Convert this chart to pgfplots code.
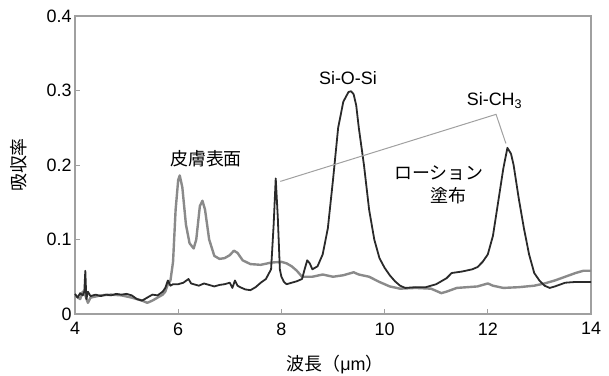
\documentclass[border=0pt]{standalone}
\usepackage{pgfplots}
\pgfplotsset{compat=1.18}
\usepackage{fontspec}
\setmainfont{Liberation Sans}
\newfontfamily\jp{Noto Sans CJK JP}
\definecolor{skin}{HTML}{8A8A8A}
\definecolor{lotion}{HTML}{2A2A2A}
\definecolor{frame}{HTML}{A0A0A0}
\begin{document}
\begin{tikzpicture}[font=\fontsize{18}{21}\selectfont]
\begin{axis}[
  scale only axis, width=516bp, height=298bp,
  xmin=4, xmax=14, ymin=0, ymax=0.4,
  xtick={4,6,8,10,12,14}, xticklabels={4,6,8,10,12,14},
  ytick={0,0.1,0.2,0.3,0.4}, yticklabels={0,0.1,0.2,0.3,0.4},
  /pgf/number format/assume math mode=true,
  tick pos=left, tick align=inside, major tick length=5bp,
  tick style={frame, line width=0.8bp},
  axis line style={frame, line width=1.5bp},
  xticklabel style={yshift=-5bp},
  xlabel={{\jp 波長（}μm{\jp ）}},
  ylabel={{\jp 吸収率}},
  xlabel style={at={(axis description cs:0.504,-0.168)}, anchor=center},
  ylabel style={at={(axis description cs:-0.110,0.5)}, anchor=center},
  clip=false,
]
\addplot[skin, line width=2.4bp, line join=round] coordinates {
(4.0,0.025)(4.1,0.02)(4.15,0.03)(4.2,0.025)(4.25,0.015)(4.3,0.022)(4.5,0.025)
(4.7,0.026)(4.9,0.025)(5.1,0.022)(5.2,0.02)(5.3,0.018)(5.4,0.015)(5.5,0.018)
(5.6,0.022)(5.7,0.026)(5.75,0.03)(5.8,0.04)(5.85,0.045)(5.9,0.07)(5.95,0.14)
(6.0,0.18)(6.03,0.186)(6.08,0.17)(6.15,0.12)(6.22,0.095)(6.3,0.088)(6.35,0.1)
(6.42,0.145)(6.47,0.152)(6.52,0.14)(6.6,0.1)(6.7,0.078)(6.8,0.074)(6.9,0.075)
(7.0,0.079)(7.08,0.085)(7.15,0.082)(7.25,0.072)(7.4,0.067)(7.6,0.066)(7.8,0.069)
(8.0,0.07)(8.1,0.068)(8.2,0.064)(8.3,0.058)(8.4,0.05)(8.6,0.05)(8.8,0.053)
(9.0,0.05)(9.2,0.052)(9.4,0.056)(9.5,0.053)(9.7,0.05)(9.9,0.043)(10.1,0.037)
(10.3,0.034)(10.6,0.035)(10.9,0.034)(11.1,0.028)(11.2,0.03)(11.4,0.035)
(11.6,0.036)(11.8,0.037)(12.0,0.041)(12.1,0.038)(12.3,0.035)(12.6,0.036)
(12.9,0.038)(13.1,0.041)(13.3,0.045)(13.5,0.05)(13.7,0.055)(13.85,0.058)(14.0,0.058)
};
\addplot[lotion, line width=1.8bp, line join=round] coordinates {
(4.0,0.027)(4.05,0.022)(4.1,0.028)(4.15,0.025)(4.18,0.03)(4.2,0.058)(4.22,0.02)
(4.25,0.03)(4.3,0.024)(4.4,0.026)(4.5,0.024)(4.6,0.026)(4.7,0.025)(4.8,0.027)
(4.9,0.026)(5.0,0.027)(5.1,0.025)(5.2,0.02)(5.3,0.018)(5.4,0.022)(5.5,0.026)
(5.6,0.025)(5.7,0.03)(5.75,0.035)(5.8,0.045)(5.85,0.038)(5.9,0.04)(6.0,0.04)
(6.1,0.042)(6.2,0.047)(6.25,0.041)(6.3,0.04)(6.4,0.038)(6.5,0.041)(6.6,0.039)
(6.7,0.037)(6.8,0.039)(6.9,0.04)(7.0,0.042)(7.05,0.035)(7.1,0.045)(7.15,0.038)
(7.2,0.036)(7.3,0.033)(7.4,0.032)(7.5,0.036)(7.6,0.042)(7.7,0.047)(7.8,0.06)
(7.85,0.12)(7.89,0.182)(7.93,0.13)(7.97,0.06)(8.0,0.05)(8.05,0.043)(8.1,0.04)
(8.2,0.042)(8.3,0.044)(8.4,0.047)(8.45,0.06)(8.5,0.072)(8.55,0.068)(8.6,0.06)
(8.7,0.064)(8.8,0.08)(8.9,0.115)(9.0,0.18)(9.1,0.25)(9.2,0.285)(9.3,0.298)
(9.35,0.299)(9.4,0.295)(9.45,0.28)(9.5,0.25)(9.6,0.2)(9.7,0.14)(9.8,0.1)
(9.9,0.075)(10.0,0.062)(10.1,0.052)(10.2,0.044)(10.3,0.038)(10.4,0.035)
(10.6,0.036)(10.8,0.036)(11.0,0.04)(11.2,0.048)(11.3,0.055)(11.5,0.057)
(11.7,0.06)(11.8,0.063)(11.9,0.07)(12.0,0.08)(12.1,0.105)(12.2,0.15)(12.3,0.195)
(12.38,0.223)(12.45,0.215)(12.5,0.2)(12.6,0.155)(12.7,0.115)(12.8,0.08)
(12.9,0.055)(13.0,0.045)(13.1,0.038)(13.2,0.035)(13.3,0.037)(13.5,0.042)
(13.7,0.043)(14.0,0.043)
};
\addplot[frame, line width=1bp] coordinates {(7.98,0.178) (12.16,0.268) (12.35,0.229)};
\node at (axis cs:6.54,0.2085) {\jp 皮膚表面};
\node at (axis cs:9.29,0.317) {Si-O-Si};
\node at (axis cs:12.13,0.287) {Si-CH\textsubscript{3}};
\node at (axis cs:11.05,0.189) {\jp ローション};
\node at (axis cs:11.24,0.159) {\jp 塗布};
\end{axis}
\pgfresetboundingbox
\path ([shift={(-75bp,-62bp)}]current axis.south west) rectangle ([shift={(18bp,16bp)}]current axis.north east);
\end{tikzpicture}
\end{document}
